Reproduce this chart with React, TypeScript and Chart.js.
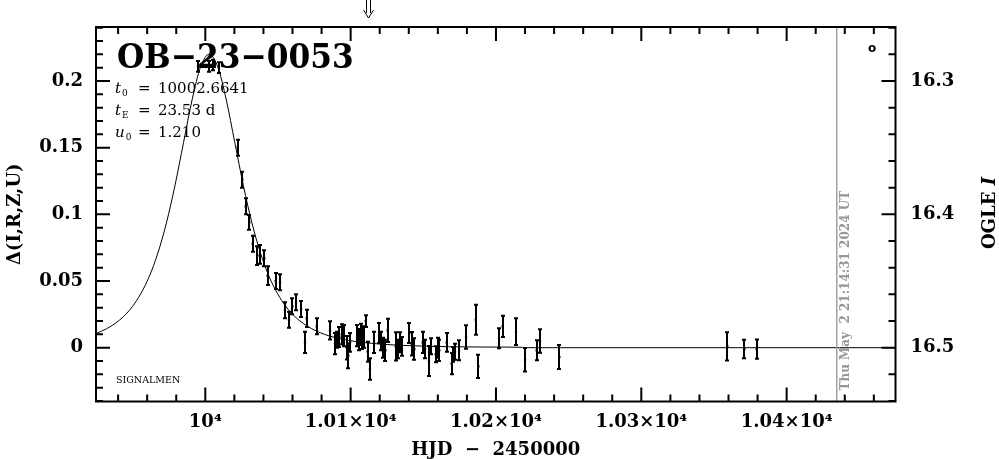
import React, { useEffect, useRef } from "react";
import { Chart, registerables } from "chart.js";
Chart.register(...registerables);

// ---- data ----
const hjd = [9995.0, 10002.5, 10005.3, 10009.4, 10022.3, 10025.5, 10027.8, 10030.3, 10032.6, 10035.8, 10037.6, 10040.6, 10042.9, 10048.4, 10051.4, 10054.8, 10057.6, 10059.9, 10062.4, 10065.9, 10068.6, 10069.8, 10076.7, 10085.8, 10089.2, 10090.8, 10092.2, 10093.9, 10095.4, 10097.3, 10098.4, 10099.6, 10104.7, 10105.8, 10106.8, 10107.8, 10108.9, 10110.4, 10111.7, 10113.3, 10116.1, 10119.7, 10120.9, 10122.5, 10123.9, 10125.5, 10131.0, 10132.4, 10134.0, 10135.1, 10140.4, 10142.0, 10143.8, 10149.6, 10151.2, 10153.9, 10155.3, 10158.5, 10159.9, 10161.0, 10166.1, 10169.5, 10170.6, 10171.8, 10174.6, 10179.4, 10186.1, 10187.9, 10202.1, 10204.6, 10213.8, 10220.0, 10228.0, 10230.3, 10243.6, 10359.2, 10370.9, 10379.4];
const delta = [0.211, 0.211, 0.212, 0.210, 0.150, 0.126, 0.106, 0.094, 0.078, 0.069, 0.070, 0.067, 0.054, 0.050, 0.049, 0.028, 0.021, 0.031, 0.034, 0.029, 0.004, 0.022, 0.016, 0.013, 0.003, 0.006, 0.008, 0.010, 0.009, 0.000, -0.006, 0.004, 0.009, 0.006, 0.010, 0.007, 0.008, 0.020, -0.003, -0.016, 0.004, 0.011, 0.005, 0.000, -0.002, 0.013, 0.001, -0.001, 0.004, 0.001, 0.011, 0.003, -0.001, 0.004, -0.001, -0.010, 0.001, -0.005, 0.000, -0.002, 0.004, -0.012, -0.005, -0.003, -0.002, 0.008, 0.021, -0.014, 0.007, 0.016, 0.012, -0.009, -0.002, 0.005, -0.007, 0.001, -0.001, -0.001];
const err = [0.004, 0.004, 0.004, 0.004, 0.006, 0.006, 0.006, 0.0056, 0.006, 0.007, 0.007, 0.006, 0.007, 0.006, 0.006, 0.006, 0.006, 0.006, 0.006, 0.006, 0.008, 0.0065, 0.006, 0.0068, 0.008, 0.006, 0.0075, 0.0075, 0.008, 0.0088, 0.0094, 0.007, 0.008, 0.008, 0.008, 0.008, 0.008, 0.0044, 0.0075, 0.008, 0.008, 0.0075, 0.007, 0.0075, 0.008, 0.0088, 0.0106, 0.007, 0.0075, 0.007, 0.0075, 0.0088, 0.008, 0.008, 0.007, 0.0113, 0.006, 0.006, 0.0075, 0.008, 0.007, 0.008, 0.0056, 0.006, 0.0075, 0.0088, 0.0113, 0.0088, 0.0075, 0.008, 0.010, 0.0088, 0.0075, 0.0088, 0.009, 0.0106, 0.007, 0.0072];

// model curve
const modelT = [9924.79, 9932.07, 9937.95, 9943.84, 9949.72, 9955.60, 9961.48, 9967.37, 9973.25, 9979.13, 9985.01, 9990.90, 9996.78, 10002.66, 10008.55, 10014.43, 10020.31, 10026.19, 10032.08, 10037.96, 10043.84, 10049.72, 10055.60, 10061.49, 10067.37, 10073.25, 10085.02, 10096.78, 10120.31, 10143.84, 10190.9, 10218.0, 10218.5, 10474.9];
const modelD = [0.0106, 0.0142, 0.0182, 0.0235, 0.0307, 0.0405, 0.0535, 0.0710, 0.0936, 0.1217, 0.1538, 0.1859, 0.2107, 0.2201, 0.2107, 0.1859, 0.1538, 0.1217, 0.0936, 0.0710, 0.0535, 0.0405, 0.0307, 0.0235, 0.0182, 0.0142, 0.0089, 0.0058, 0.0027, 0.0014, 0.0005, 0.0003, 0.0, 0.0];

const xTickValues = [10000, 10100, 10200, 10300, 10400];
const xTickLabels = ["10\u2074", "1.01\u00d710\u2074", "1.02\u00d710\u2074", "1.03\u00d710\u2074", "1.04\u00d710\u2074"];
const yTickValues = [0, 0.05, 0.1, 0.15, 0.2];
const yTickLabels = ["0", "0.05", "0.1", "0.15", "0.2"];
const magTickValues = [16.3, 16.4, 16.5];
const magTickLabels = ["16.3", "16.4", "16.5"];
const nowT = [10434.5];
const arrowT = [10112];

const eventName = "OB\u221223\u22120053";
const params = [
  { sym: "t", sub: "0", val: "10002.6641" },
  { sym: "t", sub: "E", val: "23.53 d" },
  { sym: "u", sub: "0", val: "1.210" },
];
const stamp = "Thu May  2 21:14:31 2024 UT";

const SERIF = '"DejaVu Serif"';

export default function App() {
  const ref = useRef<HTMLCanvasElement>(null);

  useEffect(() => {
    const canvas = ref.current!;

    const overlay = {
      id: "overlay",
      beforeDraw(chart: any) {
        const ctx = chart.ctx;
        ctx.save();
        ctx.fillStyle = "#fff";
        ctx.fillRect(0, 0, chart.width, chart.height);
        ctx.restore();
      },
      afterDatasetsDraw(chart: any) {
        const ctx = chart.ctx;
        const xs = chart.scales.x;
        const ys = chart.scales.y;
        ctx.save();
        ctx.strokeStyle = "#000";
        ctx.lineWidth = 2;
        ctx.beginPath();
        for (let i = 0; i < hjd.length; i++) {
          const px = Math.round(xs.getPixelForValue(hjd[i]));
          const y1 = ys.getPixelForValue(delta[i] - err[i]);
          const y2 = ys.getPixelForValue(delta[i] + err[i]);
          ctx.moveTo(px, y1);
          ctx.lineTo(px, y2);
          ctx.moveTo(px - 2, y1);
          ctx.lineTo(px + 2, y1);
          ctx.moveTo(px - 2, y2);
          ctx.lineTo(px + 2, y2);
        }
        ctx.stroke();
        ctx.restore();
      },
      afterDraw(chart: any) {
        const ctx = chart.ctx;
        const { left, right, top, bottom } = chart.chartArea;
        const xs = chart.scales.x;
        const ys = chart.scales.y;
        const y2 = chart.scales.y2;
        ctx.save();

        // "now" line
        const nx = xs.getPixelForValue(nowT[0]);
        ctx.strokeStyle = "#a0a0a0";
        ctx.lineWidth = 1.5;
        ctx.beginPath();
        ctx.moveTo(nx, top);
        ctx.lineTo(nx, bottom);
        ctx.stroke();
        ctx.save();
        ctx.translate(nx + 9, bottom - 11);
        ctx.rotate(-Math.PI / 2);
        ctx.fillStyle = "#959595";
        ctx.font = `bold 12px ${SERIF}`;
        ctx.textAlign = "left";
        ctx.textBaseline = "middle";
        ctx.fillText(stamp, 0, 0);
        ctx.restore();

        // frame and ticks
        ctx.strokeStyle = "#000";
        ctx.lineWidth = 2;
        ctx.beginPath();
        for (let v = 9940; v <= 10470; v += 20) {
          const px = xs.getPixelForValue(v);
          const len = v % 100 === 0 ? 14 : 7;
          ctx.moveTo(px, bottom);
          ctx.lineTo(px, bottom - len);
          ctx.moveTo(px, top);
          ctx.lineTo(px, top + len);
        }
        for (let k = -4; k <= 24; k++) {
          const py = ys.getPixelForValue(k / 100);
          const len = k % 5 === 0 ? 14 : 7;
          ctx.moveTo(left, py);
          ctx.lineTo(left + len, py);
        }
        for (let k = 813; k <= 827; k++) {
          const py = y2.getPixelForValue(k * 0.02);
          const len = k % 5 === 0 ? 14 : 7;
          ctx.moveTo(right, py);
          ctx.lineTo(right - len, py);
        }
        ctx.stroke();
        ctx.strokeRect(left, top, right - left, bottom - top);

        // texts
        ctx.fillStyle = "#000";
        ctx.textAlign = "left";
        ctx.textBaseline = "alphabetic";
        ctx.save();
        ctx.translate(117, 68);
        ctx.scale(0.92, 1);
        ctx.font = `bold 34px ${SERIF}`;
        ctx.fillText(eventName, 0, 0);
        ctx.restore();

        params.forEach((p, i) => {
          const by = 93 + i * 22;
          ctx.font = `italic 15px ${SERIF}`;
          ctx.fillText(p.sym, 115, by);
          const w = ctx.measureText(p.sym).width;
          ctx.font = `9px ${SERIF}`;
          ctx.fillText(p.sub, 115 + w + 1, by + 3);
          ctx.font = `15px ${SERIF}`;
          ctx.fillText("=", 138, by);
          ctx.fillText(p.val, 158, by);
        });

        ctx.font = `9.5px ${SERIF}`;
        ctx.fillText("SIGNALMEN", 116, 383);

        ctx.font = `bold 12px "DejaVu Sans"`;
        ctx.textAlign = "center";
        ctx.fillText("o", 872, 52);

        // double arrow at top
        const ax = Math.round(xs.getPixelForValue(arrowT[0])) + 0.5;
        ctx.lineWidth = 1;
        ctx.beginPath();
        ctx.moveTo(ax - 2, 0);
        ctx.lineTo(ax - 2, 13);
        ctx.moveTo(ax + 2, 0);
        ctx.lineTo(ax + 2, 13);
        ctx.moveTo(ax - 5, 10);
        ctx.lineTo(ax, 18);
        ctx.lineTo(ax + 5, 10);
        ctx.stroke();

        // right axis title
        ctx.save();
        ctx.translate(990, 213);
        ctx.rotate(-Math.PI / 2);
        ctx.textBaseline = "middle";
        ctx.textAlign = "left";
        ctx.font = `bold 18px ${SERIF}`;
        const t1 = "OGLE ";
        const w1 = ctx.measureText(t1).width;
        ctx.font = `bold italic 18px ${SERIF}`;
        const w2 = ctx.measureText("I").width;
        const sx = -(w1 + w2) / 2;
        ctx.font = `bold 18px ${SERIF}`;
        ctx.fillText(t1, sx, 0);
        ctx.font = `bold italic 18px ${SERIF}`;
        ctx.fillText("I", sx + w1, 0);
        ctx.restore();

        ctx.restore();
      },
    };

    const tickFont = { family: SERIF, size: 18, weight: "bold" as const };

    const chart = new Chart(canvas, {
      type: "scatter",
      data: {
        datasets: [
          {
            type: "line",
            data: modelT.map((t, i) => ({ x: t, y: modelD[i] })),
            borderColor: "#000",
            borderWidth: 1,
            pointRadius: 0,
            cubicInterpolationMode: "monotone",
            fill: false,
            yAxisID: "y",
          } as any,
          {
            type: "scatter",
            data: hjd.map((t, i) => ({ x: t, y: delta[i] })),
            pointStyle: "rect",
            pointRadius: 1.6,
            backgroundColor: "#000",
            borderWidth: 0,
            yAxisID: "y",
          },
        ],
      },
      options: {
        responsive: false,
        devicePixelRatio: 1,
        animation: false,
        events: [],
        layout: { padding: { top: 27, left: 0, right: 0, bottom: 0 } },
        plugins: { legend: { display: false }, tooltip: { enabled: false } },
        scales: {
          x: {
            type: "linear",
            min: 9924.79,
            max: 10474.9,
            afterBuildTicks: (s: any) => {
              s.ticks = xTickValues.map((v) => ({ value: v }));
            },
            afterFit: (s: any) => {
              s.height = 57.5;
            },
            grid: { display: false, drawTicks: false },
            border: { display: false },
            ticks: {
              autoSkip: false,
              maxRotation: 0,
              padding: 10,
              color: "#000",
              font: tickFont,
              callback: (_v: any, i: number) => xTickLabels[i],
            },
            title: {
              display: true,
              text: "HJD  \u2212  2450000",
              color: "#000",
              font: { family: SERIF, size: 18, weight: "bold", lineHeight: 1 },
              padding: { top: 0, bottom: 0 },
            },
          },
          y: {
            type: "linear",
            position: "left",
            min: -0.04035,
            max: 0.24053,
            afterBuildTicks: (s: any) => {
              s.ticks = yTickValues.map((v) => ({ value: v }));
            },
            afterFit: (s: any) => {
              s.width = 96;
            },
            grid: { display: false, drawTicks: false },
            border: { display: false },
            ticks: {
              autoSkip: false,
              padding: 13,
              color: "#000",
              font: tickFont,
              callback: (_v: any, i: number) => yTickLabels[i],
            },
            title: {
              display: true,
              text: "\u0394(I,R,Z,U)",
              color: "#000",
              font: { family: SERIF, size: 18, weight: "bold", lineHeight: 1 },
              padding: { top: 6, bottom: 0 },
            },
          },
          y2: {
            type: "linear",
            position: "right",
            reverse: true,
            min: 16.25947,
            max: 16.54035,
            afterBuildTicks: (s: any) => {
              s.ticks = magTickValues.map((v) => ({ value: v }));
            },
            afterFit: (s: any) => {
              s.width = 103.5;
            },
            grid: { display: false, drawTicks: false },
            border: { display: false },
            ticks: {
              autoSkip: false,
              padding: 15,
              color: "#000",
              font: tickFont,
              callback: (_v: any, i: number) => magTickLabels[i],
            },
          },
        },
      },
      plugins: [overlay],
    } as any);

    return () => chart.destroy();
  }, []);

  return (
    <div style={{ position: "absolute", left: 0, top: 0, width: 999, height: 459, background: "#fff" }}>
      <canvas ref={ref} width={999} height={459} style={{ width: 999, height: 459, display: "block" }} />
    </div>
  );
}
